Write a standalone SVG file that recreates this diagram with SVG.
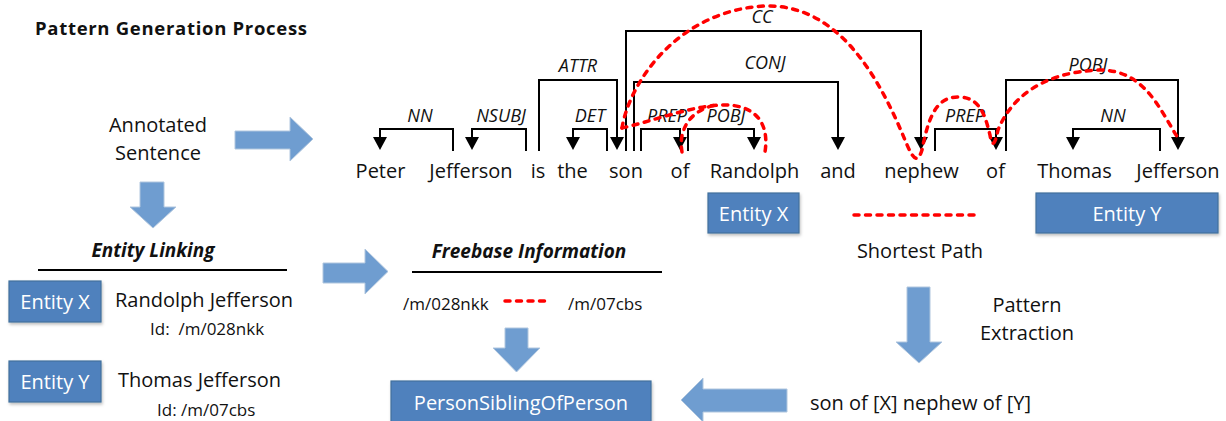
<svg xmlns="http://www.w3.org/2000/svg" width="1226" height="421" viewBox="0 0 1226 421">
<defs>
<style>
text{font-family:"Open Sans","Liberation Sans",sans-serif;fill:#111}
.w{font-size:20px;text-anchor:middle}
.lab{font-size:18px;font-style:italic;text-anchor:middle}
.t{font-size:20px}
.s{font-size:17px}
.hd{font-size:19px;font-weight:bold;font-style:italic;text-anchor:middle}
.bx{fill:#4f81bd;stroke:#41719c;stroke-width:1.2}
.bt{fill:#fff;font-size:20px;text-anchor:middle}
.br{fill:none;stroke:#000;stroke-width:2}
.ah{fill:#000}
.ar{fill:#6f9dd0;stroke:#b0c6de;stroke-width:1}
.red{fill:none;stroke:#f00;stroke-width:3.5;stroke-dasharray:5 6.5;stroke-linecap:round}
.rule{stroke:#000;stroke-width:2}
</style>
<filter id="sh" x="-10%" y="-10%" width="130%" height="140%">
<feDropShadow dx="1" dy="2" stdDeviation="1.5" flood-color="#000" flood-opacity="0.25"/>
</filter>
</defs>

<text x="35" y="35" style="font-size:18.5px;font-weight:bold" textLength="272">Pattern Generation Process</text>

<g id="annotated">
<text class="w" x="158" y="132">Annotated</text>
<text class="w" x="158" y="160">Sentence</text>
</g>

<g id="sentence">
<text class="w" x="380.5" y="178">Peter</text>
<text class="w" x="471" y="178">Jefferson</text>
<text class="w" x="538" y="178">is</text>
<text class="w" x="572.5" y="178">the</text>
<text class="w" x="626" y="178">son</text>
<text class="w" x="680" y="178">of</text>
<text class="w" x="754.5" y="178">Randolph</text>
<text class="w" x="838" y="178">and</text>
<text class="w" x="921.5" y="178">nephew</text>
<text class="w" x="995.5" y="178">of</text>
<text class="w" x="1074.5" y="178">Thomas</text>
<text class="w" x="1178" y="178">Jefferson</text>
</g>

<g id="dependencies">
<path class="br" d="M380,138V129H453V151"/>
<path class="br" d="M472,138V129H526V151"/>
<path class="br" d="M539,151V80H617V138"/>
<path class="br" d="M573,138V129H607V151"/>
<path class="br" d="M626,151V31H921V138"/>
<path class="br" d="M634,151V82H838V138"/>
<path class="br" d="M641,151V129H680V138"/>
<path class="br" d="M688,151V129H754V138"/>
<path class="br" d="M935,151V129H996V138"/>
<path class="br" d="M1006,151V80H1178V138"/>
<path class="br" d="M1073,138V129H1160V151"/>
<g class="ah">
<polygon points="373,137 387,137 380,150"/>
<polygon points="465,137 479,137 472,150"/>
<polygon points="610,137 624,137 617,150"/>
<polygon points="566,137 580,137 573,150"/>
<polygon points="914,137 928,137 921,150"/>
<polygon points="831,137 845,137 838,150"/>
<polygon points="673,137 687,137 680,150"/>
<polygon points="747,137 761,137 754,150"/>
<polygon points="989,137 1003,137 996,150"/>
<polygon points="1171,137 1185,137 1178,150"/>
<polygon points="1066,137 1080,137 1073,150"/>
</g>
<text class="lab" x="420" y="122">NN</text>
<text class="lab" x="501" y="122">NSUBJ</text>
<text class="lab" x="578" y="72">ATTR</text>
<text class="lab" x="590" y="122">DET</text>
<text class="lab" x="762" y="23">CC</text>
<text class="lab" x="765" y="69">CONJ</text>
<text class="lab" x="667" y="122">PREP</text>
<text class="lab" x="726" y="122">POBJ</text>
<text class="lab" x="965" y="122">PREP</text>
<text class="lab" x="1088" y="71">POBJ</text>
<text class="lab" x="1113" y="122">NN</text>
</g>

<g id="shortest-path-curves">
<path class="red" d="M622,128 C630,80 680,10 765,6 C840,4 880,80 905,140 C912,157 917,166 922,150 C928,120 935,97 958,97 C980,97 985,115 990,135 C992,148 995,145 998,130 C1010,100 1040,72 1100,70 C1145,70 1160,110 1178,138"/>
<path class="red" d="M622,128 C650,122 690,106 722,105 C752,104 770,120 765,152"/>
<path class="red" d="M682,152 C678,130 690,110 716,105"/>
</g>

<g id="entity-x-top">
<rect class="bx" x="708" y="193" width="91" height="40" filter="url(#sh)"/>
<text class="bt" x="753.5" y="221">Entity X</text>
</g>
<g id="entity-y-top">
<rect class="bx" x="1036" y="193" width="182" height="40" filter="url(#sh)"/>
<text class="bt" x="1127" y="221">Entity Y</text>
</g>
<g id="shortest-path">
<line class="red" x1="854" y1="215" x2="979" y2="215"/>
<text class="w" x="920" y="258">Shortest Path</text>
</g>

<g id="entity-linking">
<text class="hd" x="153" y="257">Entity Linking</text>
<line class="rule" x1="38" y1="270" x2="287" y2="270"/>
<rect class="bx" x="9" y="281" width="92" height="41" filter="url(#sh)"/>
<text class="bt" x="55" y="309">Entity X</text>
<text class="t" x="115" y="307">Randolph Jefferson</text>
<text class="s" x="150" y="335" style="white-space:pre">Id:  /m/028nkk</text>
<rect class="bx" x="9" y="361" width="92" height="41" filter="url(#sh)"/>
<text class="bt" x="55" y="389">Entity Y</text>
<text class="t" x="118" y="387">Thomas Jefferson</text>
<text class="s" x="157" y="416">Id: /m/07cbs</text>
</g>

<g id="freebase">
<text class="hd" x="529" y="258">Freebase Information</text>
<line class="rule" x1="412" y1="272" x2="662" y2="272"/>
<text class="s" x="403" y="310">/m/028nkk</text>
<line class="red" x1="505" y1="301" x2="546" y2="301"/>
<text class="s" x="568" y="310">/m/07cbs</text>
</g>

<g id="relation">
<rect class="bx" x="391" y="381" width="260" height="50" filter="url(#sh)"/>
<text class="bt" x="521" y="410">PersonSiblingOfPerson</text>
</g>

<g id="pattern-extraction">
<text class="w" x="1027" y="312">Pattern</text>
<text class="w" x="1027" y="340">Extraction</text>
</g>
<g id="pattern">
<text class="t" x="810" y="410">son of [X] nephew of [Y]</text>
</g>

<g id="connectors">
<polygon class="ar" points="235,131 290,131 290,117 313,139 290,161 290,149 235,149"/>
<polygon class="ar" points="140,182 164,182 164,207 176,207 153,228 130,207 140,207"/>
<polygon class="ar" points="323,263 365,263 365,249 388,271.5 365,294 365,283 323,283"/>
<polygon class="ar" points="505,328 528,328 528,348 540,348 516.5,372 493,348 505,348"/>
<polygon class="ar" points="907,287 930,287 930,342 942,342 919,363 896,342 907,342"/>
<polygon class="ar" points="787,389 703,389 703,378 681,400 703,422 703,412 787,412"/>
</g>
</svg>
